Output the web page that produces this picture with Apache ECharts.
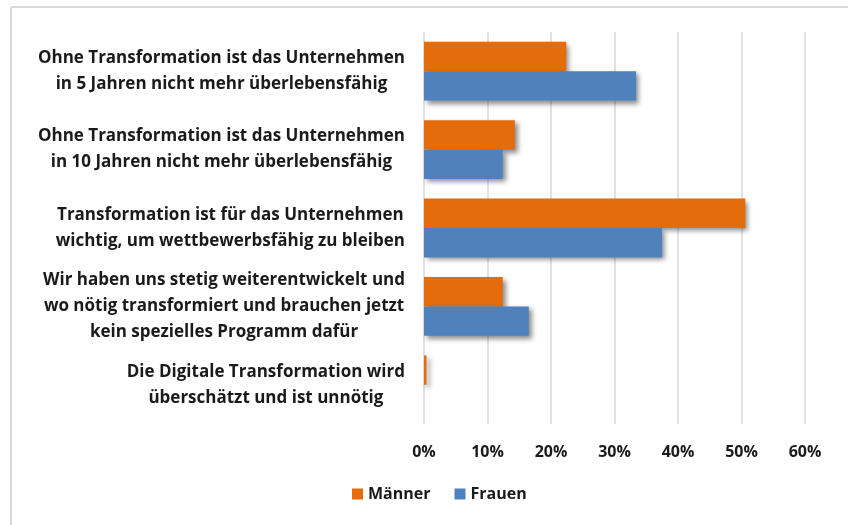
<!DOCTYPE html>
<html>
<head>
<meta charset="utf-8">
<script src="https://cdn.jsdelivr.net/npm/echarts@6/dist/echarts.min.js"></script>
<style>
  html, body { margin: 0; padding: 0; background: #fff; }
  #chart { width: 848px; height: 525px; }
</style>
</head>
<body>
<div id="chart"></div>
<script>
// Antworten (von oben nach unten)
const categories = [
    'Ohne Transformation ist das Unternehmen\nin 5 Jahren nicht mehr überlebensfähig',
    'Ohne Transformation ist das Unternehmen\nin 10 Jahren nicht mehr überlebensfähig',
    'Transformation ist für das Unternehmen\nwichtig, um wettbewerbsfähig zu bleiben',
    'Wir haben uns stetig weiterentwickelt und\nwo nötig transformiert und brauchen jetzt\nkein spezielles Programm dafür',
    'Die Digitale Transformation wird\nüberschätzt und ist unnötig'
];
const seriesNames = ['Männer', 'Frauen'];
const maenner = [22.4, 14.3, 50.6, 12.4, 0.4];
const frauen = [33.4, 12.4, 37.5, 16.5, 0];
const xTicks = [0, 10, 20, 30, 40, 50, 60];

const chart = echarts.init(document.getElementById('chart'));

const fontFamily = '"Open Sans", "Liberation Sans", sans-serif';
const barShadow = {
    shadowColor: 'rgba(0, 0, 0, 0.45)',
    shadowBlur: 5,
    shadowOffsetX: 3,
    shadowOffsetY: 3
};

const options = {
    backgroundColor: '#fff',
    animation: false,
    graphic: [
        // Rahmen oben und links
        { type: 'line', shape: { x1: 11, y1: 7, x2: 848, y2: 7 }, style: { stroke: '#d9d9d9', lineWidth: 2 } },
        { type: 'line', shape: { x1: 11, y1: 7, x2: 11, y2: 525 }, style: { stroke: '#d9d9d9', lineWidth: 2 } }
    ],
    legend: {
        data: seriesNames,
        bottom: 18,
        left: 347,
        itemWidth: 11,
        itemHeight: 11,
        itemGap: 24,
        icon: 'rect',
        textStyle: {
            fontFamily: fontFamily,
            fontWeight: 'bold',
            fontSize: 16,
            color: '#1a1a1a'
        }
    },
    grid: {
        left: 424,
        right: 43,
        top: 32,
        bottom: 101,
        containLabel: false
    },
    xAxis: {
        type: 'value',
        min: xTicks[0],
        max: xTicks[xTicks.length - 1],
        interval: 10,
        axisLine: { show: false },
        axisTick: { show: false },
        axisLabel: {
            formatter: '{value}%',
            margin: 20,
            fontFamily: fontFamily,
            fontWeight: 'bold',
            fontSize: 16,
            color: '#1a1a1a'
        },
        splitLine: {
            lineStyle: { color: '#d9d9d9', width: 1.5 }
        }
    },
    yAxis: {
        type: 'category',
        data: categories,
        inverse: true,
        axisLine: { show: false },
        axisTick: { show: false },
        axisLabel: {
            margin: 19,
            align: 'right',
            formatter: (value) => value.split('\n').map(l => '{c|' + l + '}').join('\n'),
            rich: {
                c: {
                    align: 'center',
                    fontFamily: fontFamily,
                    fontWeight: 'bold',
                    fontSize: 17,
                    lineHeight: 26,
                    color: '#1a1a1a'
                }
            }
        }
    },
    series: [
        {
            name: seriesNames[0],
            type: 'bar',
            data: maenner,
            barGap: '0%',
            barCategoryGap: '25%',
            itemStyle: Object.assign({ color: '#e46c0a' }, barShadow)
        },
        {
            name: seriesNames[1],
            type: 'bar',
            data: frauen,
            barGap: '0%',
            barCategoryGap: '25%',
            itemStyle: Object.assign({ color: '#4f81bd' }, barShadow)
        }
    ]
};

chart.setOption(options);
</script>
</body>
</html>
